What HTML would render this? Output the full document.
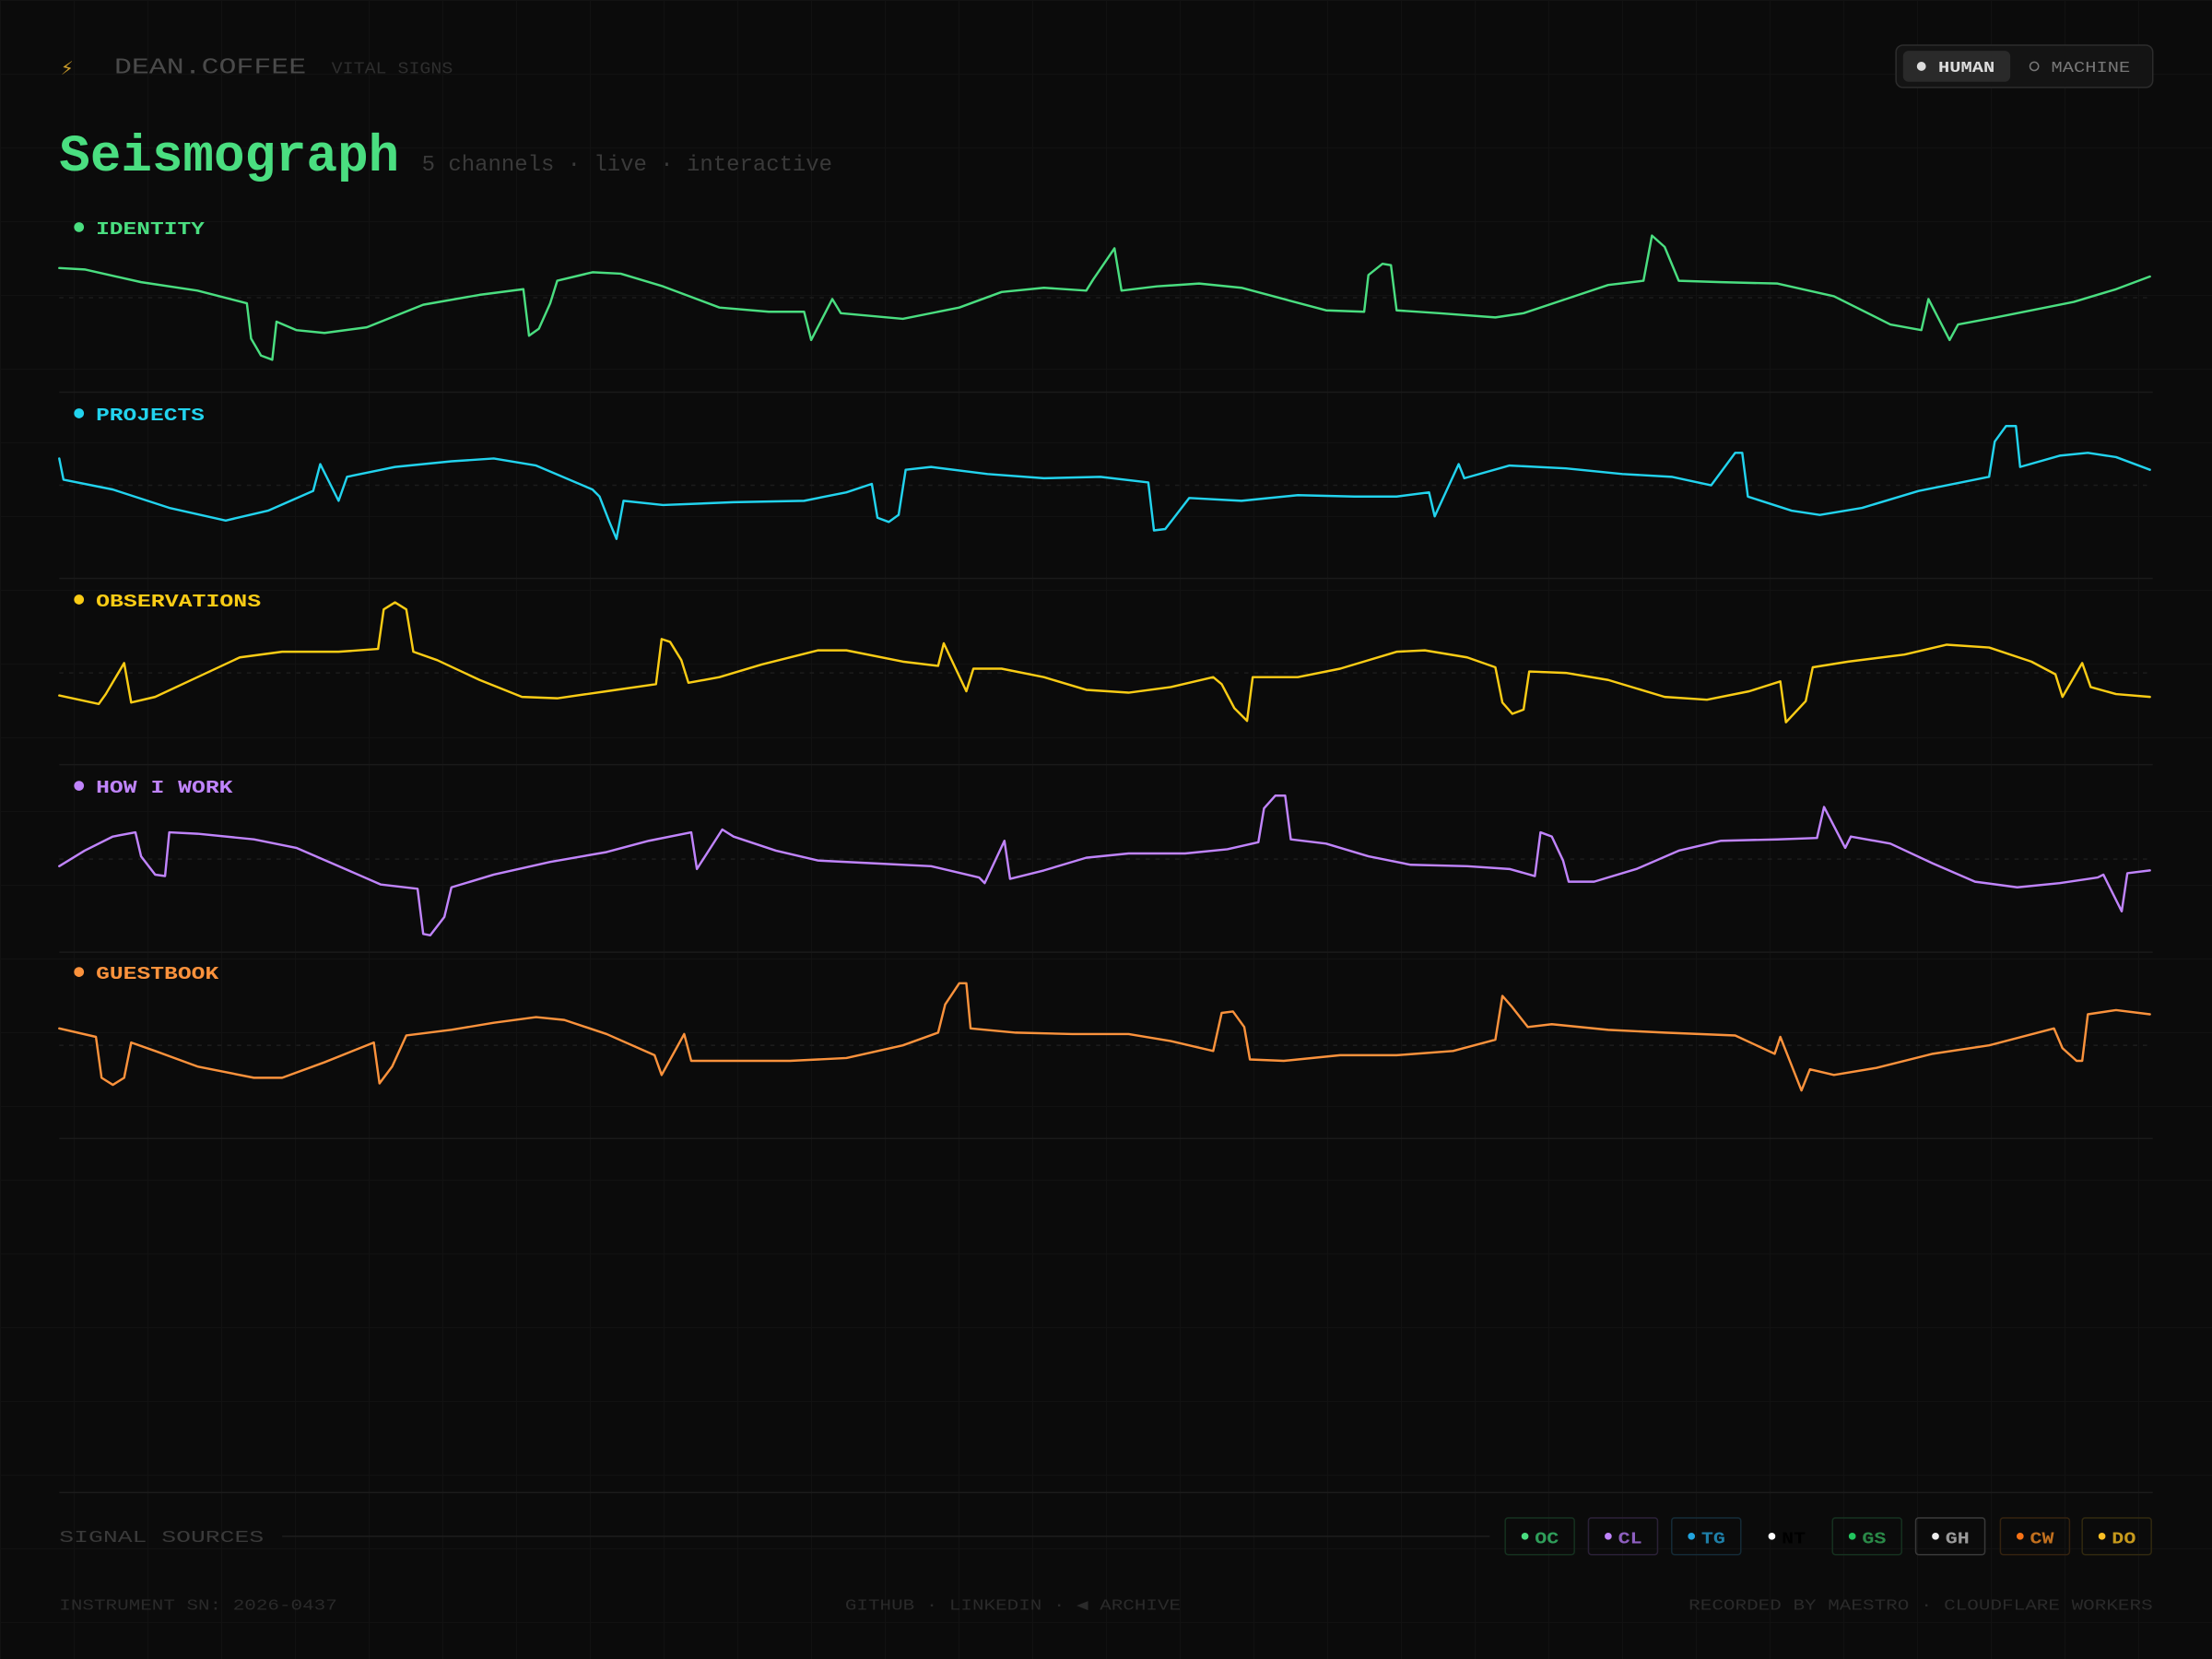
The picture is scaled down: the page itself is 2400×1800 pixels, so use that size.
<!DOCTYPE html>
<html><head><meta charset="utf-8"><style>
html,body{margin:0;padding:0;width:2400px;height:1800px;overflow:hidden;background:#0b0b0b;}
body{background-image:linear-gradient(#121212 1px,transparent 1px),linear-gradient(90deg,#121212 1px,transparent 1px);background-size:80px 80px;background-position:0 0;}
svg{position:absolute;left:0;top:0;}
text{font-family:"Liberation Mono","DejaVu Sans Mono",monospace;}
</style></head><body>
<svg width="2400" height="1800" viewBox="0 0 1568 1176" xmlns="http://www.w3.org/2000/svg">
<defs><filter id="g" x="-5%" y="-50%" width="110%" height="200%"><feGaussianBlur stdDeviation="2"/></filter></defs>
<!-- header -->
<text x="43" y="53" font-size="15" fill="#c89a2a">⚡</text>
<text x="81" y="52" font-size="16" fill="#4a4a4a" textLength="136" lengthAdjust="spacingAndGlyphs">DEAN.COFFEE</text>
<text x="235" y="52" font-size="12" fill="#2e2e2e" textLength="86" lengthAdjust="spacingAndGlyphs">VITAL SIGNS</text>
<rect x="1344" y="32" width="182" height="30" rx="5" fill="#141414" stroke="#2c2c2c"/>
<rect x="1349" y="36" width="76" height="22" rx="4" fill="#2a2a2a"/>
<circle cx="1362" cy="47" r="3.2" fill="#ddd"/>
<text x="1374" y="51" font-size="11" font-weight="bold" fill="#ddd" textLength="40" lengthAdjust="spacingAndGlyphs">HUMAN</text>
<circle cx="1442" cy="47" r="3" fill="none" stroke="#777"/>
<text x="1454" y="51" font-size="11" fill="#777" textLength="56" lengthAdjust="spacingAndGlyphs">MACHINE</text>
<text x="42" y="121" font-size="37" font-weight="bold" fill="#4ade80" textLength="241" lengthAdjust="spacingAndGlyphs">Seismograph</text>
<text x="299" y="121" font-size="16" fill="#3a3a3a" textLength="291" lengthAdjust="spacingAndGlyphs">5 channels · live · interactive</text>
<!-- separators & baselines -->
<g stroke="#1a1a1a" stroke-width="1">
<line x1="42" y1="278" x2="1526" y2="278"/><line x1="42" y1="410" x2="1526" y2="410"/><line x1="42" y1="542" x2="1526" y2="542"/><line x1="42" y1="675" x2="1526" y2="675"/><line x1="42" y1="807" x2="1526" y2="807"/>
</g>
<g stroke="#1c1c1c" stroke-dasharray="3 4">
<line x1="42" y1="211" x2="1526" y2="211"/><line x1="42" y1="344" x2="1526" y2="344"/><line x1="42" y1="477" x2="1526" y2="477"/><line x1="42" y1="609" x2="1526" y2="609"/><line x1="42" y1="741" x2="1526" y2="741"/>
</g>
<!-- labels -->
<g font-size="12.5" font-weight="bold" lengthAdjust="spacingAndGlyphs">
<circle cx="56" cy="161" r="3.5" fill="#4ade80"/><text x="68" y="166" fill="#4ade80" textLength="77" lengthAdjust="spacingAndGlyphs">IDENTITY</text>
<circle cx="56" cy="293" r="3.5" fill="#22d3ee"/><text x="68" y="298" fill="#22d3ee" textLength="77" lengthAdjust="spacingAndGlyphs">PROJECTS</text>
<circle cx="56" cy="425" r="3.5" fill="#facc15"/><text x="68" y="430" fill="#facc15" textLength="117" lengthAdjust="spacingAndGlyphs">OBSERVATIONS</text>
<circle cx="56" cy="557" r="3.5" fill="#c084fc"/><text x="68" y="562" fill="#c084fc" textLength="97" lengthAdjust="spacingAndGlyphs">HOW I WORK</text>
<circle cx="56" cy="689" r="3.5" fill="#fb923c"/><text x="68" y="694" fill="#fb923c" textLength="87" lengthAdjust="spacingAndGlyphs">GUESTBOOK</text>
</g>
<!-- waves -->
<g fill="none" stroke-linejoin="round" stroke-linecap="round" stroke-width="1.6">
<polyline stroke="#4ade80" points="42,190 60,191 100,200 140,206 175,215 178,240 185,252 193,255 196,228 210,234 230,236 260,232 300,216 340,209 371,205 375,238 382,233 390,215 395,199 420,193 440,194 470,203 510,218 545,221 570,221 575,241 590,212 596,222 640,226 680,218 710,207 740,204 770,206 775,198 790,176 795,206 820,203 850,201 880,204 910,212 940,220 967,221 970,195 980,187 986,188 990,220 1020,222 1060,225 1080,222 1110,212 1140,202 1165,199 1171,167 1180,175 1190,199 1220,200 1260,201 1300,210 1340,230 1362,234 1367,212 1382,241 1388,230 1420,224 1470,214 1500,205 1524,196"/>
<polyline stroke="#22d3ee" points="42,325 45,340 80,347 120,360 160,369 190,362 222,348 227,329 240,355 246,338 280,331 320,327 350,325 380,330 420,347 425,352 432,370 437,382 442,355 470,358 520,356 570,355 600,349 618,343 622,367 630,370 637,365 642,333 660,331 700,336 740,339 780,338 814,342 818,376 826,375 843,353 880,355 920,351 960,352 990,352 1013,349 1017,366 1034,329 1038,339 1070,330 1110,332 1150,336 1185,338 1213,344 1230,321 1235,321 1239,352 1270,362 1290,365 1320,360 1360,348 1410,338 1414,313 1422,302 1429,302 1432,331 1460,323 1480,321 1500,324 1524,333"/>
<polyline stroke="#facc15" points="42,493 70,499 75,492 88,470 93,498 110,494 140,480 170,466 200,462 240,462 268,460 272,432 280,427 288,432 293,462 310,468 340,482 370,494 395,495 430,490 465,485 469,453 475,455 483,468 488,484 510,480 540,471 580,461 600,461 640,469 665,472 669,456 685,490 690,474 710,474 740,480 770,489 800,491 830,487 860,480 866,485 875,502 884,511 888,480 920,480 950,474 990,462 1010,461 1040,466 1060,473 1065,498 1072,506 1080,503 1084,476 1110,477 1140,482 1180,494 1210,496 1240,490 1262,483 1266,512 1280,497 1285,473 1310,469 1350,464 1380,457 1410,459 1440,469 1457,478 1462,494 1476,470 1482,487 1500,492 1524,494"/>
<polyline stroke="#c084fc" points="42,614 60,603 80,593 96,590 100,607 110,620 117,621 120,590 140,591 180,595 210,601 240,614 270,627 296,630 300,662 305,663 315,650 320,629 350,620 390,611 430,604 460,596 490,590 494,616 512,588 520,593 550,603 580,610 620,612 660,614 694,622 698,626 712,596 716,623 740,617 770,608 800,605 840,605 870,602 892,597 896,573 904,564 911,564 915,595 940,598 970,607 1000,613 1040,614 1070,616 1088,621 1092,590 1100,593 1108,610 1112,625 1130,625 1160,616 1190,603 1220,596 1260,595 1288,594 1293,572 1308,601 1312,593 1340,598 1370,612 1400,625 1430,629 1460,626 1487,622 1491,620 1504,646 1508,619 1524,617"/>
<polyline stroke="#fb923c" points="42,729 68,735 72,764 80,769 88,764 93,739 110,745 140,756 180,764 200,764 230,753 265,739 269,768 278,756 288,734 320,730 350,725 380,721 400,723 430,733 464,748 469,762 485,733 490,752 520,752 560,752 600,750 640,741 665,732 670,712 680,697 685,697 688,729 720,732 760,733 800,733 830,738 860,745 866,718 874,717 882,728 886,751 910,752 950,748 990,748 1030,745 1060,737 1065,706 1072,714 1083,728 1100,726 1140,730 1180,732 1230,734 1258,747 1262,735 1277,773 1283,758 1300,762 1330,757 1370,747 1410,741 1456,729 1462,743 1472,752 1476,752 1480,719 1500,716 1524,719"/>
</g>
<!-- footer -->
<line x1="42" y1="1058" x2="1526" y2="1058" stroke="#1c1c1c"/>
<text x="42" y="1093" font-size="12" fill="#3a3a3a" textLength="145" lengthAdjust="spacingAndGlyphs">SIGNAL SOURCES</text>
<line x1="200" y1="1089" x2="1056" y2="1089" stroke="#1e1e1e"/>
<g font-size="12" font-weight="bold">
<rect x="1067" y="1076" width="49" height="26" rx="2" fill="none" stroke="#15301f"/><circle cx="1081" cy="1089" r="2.5" fill="#4ade80"/><text x="1088" y="1094" fill="#2f9e5a" textLength="17" lengthAdjust="spacingAndGlyphs">OC</text>
<rect x="1126" y="1076" width="49" height="26" rx="2" fill="none" stroke="#2a2036"/><circle cx="1140" cy="1089" r="2.5" fill="#c084fc"/><text x="1147" y="1094" fill="#8e5fc0" textLength="17" lengthAdjust="spacingAndGlyphs">CL</text>
<rect x="1185" y="1076" width="49" height="26" rx="2" fill="none" stroke="#142a36"/><circle cx="1199" cy="1089" r="2.5" fill="#22a5e0"/><text x="1206" y="1094" fill="#1e7fa8" textLength="17" lengthAdjust="spacingAndGlyphs">TG</text>
<circle cx="1256" cy="1089" r="2.5" fill="#fff"/><text x="1263" y="1094" fill="#000" textLength="17" lengthAdjust="spacingAndGlyphs">NT</text>
<rect x="1299" y="1076" width="49" height="26" rx="2" fill="none" stroke="#15301f"/><circle cx="1313" cy="1089" r="2.5" fill="#22c55e"/><text x="1320" y="1094" fill="#2a8a48" textLength="17" lengthAdjust="spacingAndGlyphs">GS</text>
<rect x="1358" y="1076" width="49" height="26" rx="2" fill="none" stroke="#383838"/><circle cx="1372" cy="1089" r="2.5" fill="#eee"/><text x="1379" y="1094" fill="#9a9a9a" textLength="17" lengthAdjust="spacingAndGlyphs">GH</text>
<rect x="1418" y="1076" width="49" height="26" rx="2" fill="none" stroke="#33220f"/><circle cx="1432" cy="1089" r="2.5" fill="#f97316"/><text x="1439" y="1094" fill="#c2701e" textLength="17" lengthAdjust="spacingAndGlyphs">CW</text>
<rect x="1476" y="1076" width="49" height="26" rx="2" fill="none" stroke="#30280f"/><circle cx="1490" cy="1089" r="2.5" fill="#fbbf24"/><text x="1497" y="1094" fill="#c79a1c" textLength="17" lengthAdjust="spacingAndGlyphs">DO</text>
</g>
<g font-size="11" fill="#2a2a2a">
<text x="42" y="1141" textLength="197" lengthAdjust="spacingAndGlyphs">INSTRUMENT SN: 2026-0437</text>
<text x="599" y="1141" textLength="238" lengthAdjust="spacingAndGlyphs">GITHUB · LINKEDIN · ◀ ARCHIVE</text>
<text x="1197" y="1141" textLength="329" lengthAdjust="spacingAndGlyphs">RECORDED BY MAESTRO · CLOUDFLARE WORKERS</text>
</g>
</svg>
</body></html>
